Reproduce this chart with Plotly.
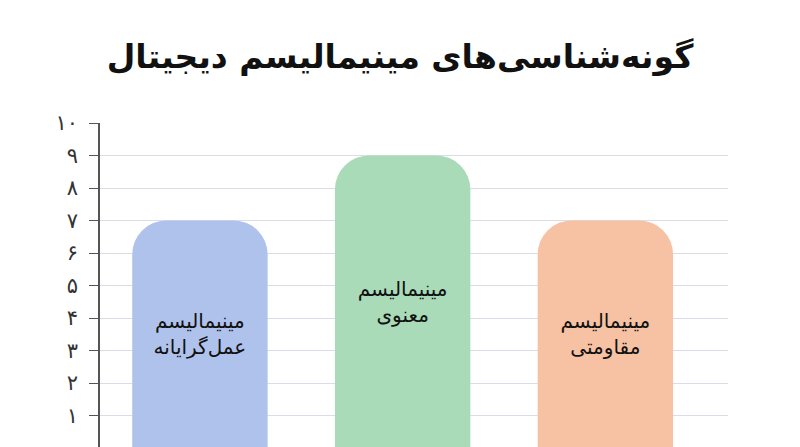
import plotly.graph_objects as go

# data
categories = ["عمل‌گرایانه", "معنوی", "مقاومتی"]
values = [7, 9, 7]
bar_labels = [
    "مینیمالیسم<br>عمل‌گرایانه",
    "مینیمالیسم<br>معنوی",
    "مینیمالیسم<br>مقاومتی",
]
bar_colors = ["#afc2ec", "#a9dbb8", "#f7c1a4"]
tick_vals = [1, 2, 3, 4, 5, 6, 7, 8, 9, 10]
tick_text = ["۱", "۲", "۳", "۴", "۵", "۶", "۷", "۸", "۹", "۱۰"]
title_text = "گونه‌شناسی‌های مینیمالیسم دیجیتال"

fig = go.Figure()
fig.add_trace(go.Bar(
    x=categories,
    y=values,
    text=bar_labels,
    textposition="inside",
    insidetextanchor="middle",
    textangle=0,
    textfont=dict(family="DejaVu Sans", size=20, color="#111111"),
    marker=dict(color=bar_colors, line=dict(width=0)),
    width=0.668,
    hoverinfo="skip",
))

# page adds an 8px body margin, so margins are shifted by that
fig.update_layout(
    width=800,
    height=447,
    paper_bgcolor="white",
    plot_bgcolor="white",
    margin=dict(l=92, r=80, t=115, b=7),
    barcornerradius=34,
    showlegend=False,
    title=dict(
        text=title_text,
        x=0.49,
        xanchor="center",
        y=1 - 48 / 447,
        yanchor="middle",
        yref="container",
        font=dict(family="DejaVu Sans", size=33, color="#111111", weight="bold"),
    ),
    uniformtext=dict(minsize=20, mode="show"),
)

fig.update_xaxes(
    range=[-0.493, 2.605],
    showticklabels=False,
    showgrid=False,
    showline=False,
    zeroline=False,
    ticks="",
)
fig.update_yaxes(
    range=[0, 10],
    tickvals=tick_vals,
    ticktext=tick_text,
    tickfont=dict(family="DejaVu Sans", size=21, color="#333333"),
    showline=True,
    linecolor="#555555",
    linewidth=1.5,
    ticks="outside",
    ticklen=9,
    tickcolor="#555555",
    tickwidth=1.2,
    ticklabelstandoff=7,
    showgrid=True,
    gridcolor="#dcdce8",
    gridwidth=1.2,
    zeroline=False,
)

fig.write_html("out.html")
